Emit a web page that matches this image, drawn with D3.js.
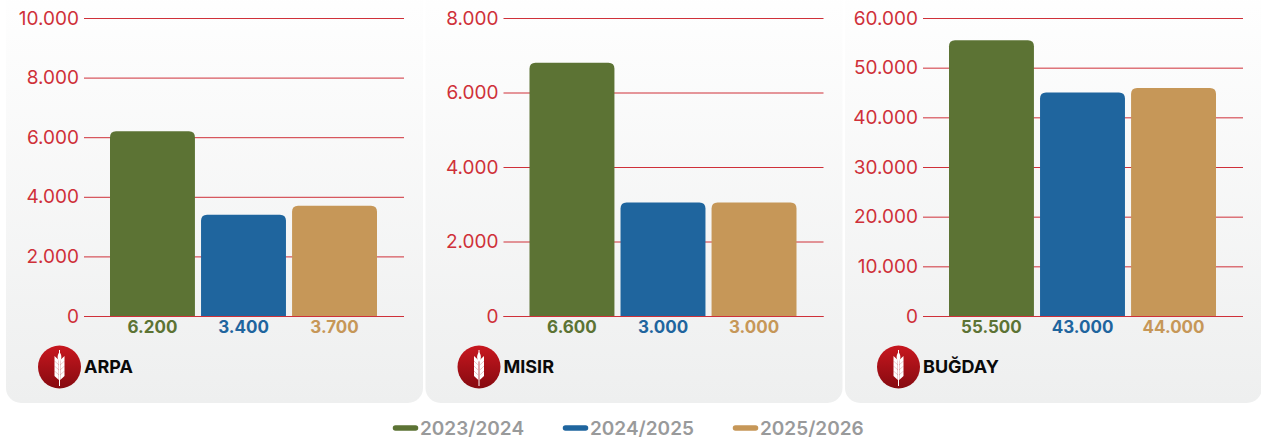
<!DOCTYPE html>
<html>
<head>
<meta charset="utf-8">
<script src="https://cdn.jsdelivr.net/npm/d3@7"></script>
<style>
  html, body { margin: 0; padding: 0; background: #fff; }
  svg { display: block; }
  text { font-family: Inter, "Noto Sans", sans-serif; }
</style>
</head>
<body>
<svg></svg>
<script>
var width = 1261,
    height = 442;

var seasons = ['2023/2024', '2024/2025', '2025/2026'];
var seasonColors = ['#5c7334', '#1f659e', '#c69758'];

var cropNames = ['ARPA', 'MISIR', 'BUĞDAY'];
var cropMax = [10000, 8000, 60000];
var cropStep = [2000, 2000, 10000];

// Bar heights as drawn
var arpaBars = [6200, 3400, 3700];
var misirBars = [6800, 3050, 3050];
var bugdayBars = [55500, 45000, 45900];

// The labels do not always agree with the bars, keep them apart
var arpaLabels = ['6.200', '3.400', '3.700'];
var misirLabels = ['6.600', '3.000', '3.000'];
var bugdayLabels = ['55.500', '43.000', '44.000'];

var cropBars = [arpaBars, misirBars, bugdayBars];
var cropLabels = [arpaLabels, misirLabels, bugdayLabels];

var panelX = [6, 425.5, 845];
var panelWidth = 417;
var panelBottom = 403;
var plotLeft = 78;
var plotWidth = 320;
var plotTop = 18;
var plotBottom = 316;

var red = '#cf3039';

// Thousands with a dot
function dotted(v) {
    return d3.format(',')(v).replace(/,/g, '.');
}

var svg = d3.select('svg')
    .attr('width', width)
    .attr('height', height);

var defs = svg.append('defs');

var panelGrad = defs.append('linearGradient')
    .attr('id', 'panel-grad')
    .attr('x1', 0).attr('y1', 0)
    .attr('x2', 0).attr('y2', 1);
panelGrad.append('stop').attr('offset', '0%').attr('stop-color', '#ffffff');
panelGrad.append('stop').attr('offset', '100%').attr('stop-color', '#eeefef');

var badgeGrad = defs.append('linearGradient')
    .attr('id', 'badge-grad')
    .attr('x1', 0).attr('y1', 0)
    .attr('x2', 0).attr('y2', 1);
badgeGrad.append('stop').attr('offset', '0%').attr('stop-color', '#c8171f');
badgeGrad.append('stop').attr('offset', '100%').attr('stop-color', '#860a10');

cropNames.forEach(function(name, i) {
    var g = svg.append('g')
        .attr('transform', 'translate(' + panelX[i] + ',0)');

    g.append('rect')
        .attr('x', 0)
        .attr('y', -20)
        .attr('width', panelWidth)
        .attr('height', panelBottom + 20)
        .attr('rx', 15)
        .attr('fill', 'url(#panel-grad)');

    var y = d3.scaleLinear()
        .domain([0, cropMax[i]])
        .range([plotBottom, plotTop]);

    var x = d3.scaleBand()
        .domain(seasons)
        .range([plotLeft + 26, plotLeft + 293])
        .paddingInner(0.067)
        .paddingOuter(0);

    var axis = d3.axisLeft(y)
        .tickValues(d3.range(0, cropMax[i] + 1, cropStep[i]))
        .tickSize(-plotWidth)
        .tickPadding(5)
        .tickFormat(dotted);

    var axisG = g.append('g')
        .attr('transform', 'translate(' + plotLeft + ',0)')
        .call(axis);
    axisG.select('.domain').remove();
    axisG.selectAll('.tick line')
        .attr('stroke', red)
        .attr('stroke-width', 1);
    axisG.selectAll('.tick text')
        .attr('fill', red)
        .style('font-size', '19px')
        .style('font-family', 'Inter, sans-serif');

    // Bars with only the top corners rounded
    g.selectAll('.bar')
        .data(cropBars[i])
        .enter().append('path')
        .attr('class', 'bar')
        .attr('fill', function(d, j) { return seasonColors[j]; })
        .attr('d', function(d, j) {
            var x0 = x(seasons[j]),
                x1 = x0 + x.bandwidth(),
                y0 = y(d),
                r = 6;
            return 'M' + x0 + ',' + plotBottom + 'V' + (y0 + r) +
                'Q' + x0 + ',' + y0 + ' ' + (x0 + r) + ',' + y0 +
                'H' + (x1 - r) +
                'Q' + x1 + ',' + y0 + ' ' + x1 + ',' + (y0 + r) +
                'V' + plotBottom + 'Z';
        });

    // baseline sits over the bars
    g.append('line')
        .attr('x1', plotLeft)
        .attr('x2', plotLeft + plotWidth)
        .attr('y1', y(0) + 0.5)
        .attr('y2', y(0) + 0.5)
        .attr('stroke', red);

    g.selectAll('.value')
        .data(cropLabels[i])
        .enter().append('text')
        .attr('class', 'value')
        .attr('x', function(d, j) { return x(seasons[j]) + x.bandwidth() / 2; })
        .attr('y', 333)
        .attr('text-anchor', 'middle')
        .attr('fill', function(d, j) { return seasonColors[j]; })
        .style('font-size', '17px')
        .style('font-weight', 700)
        .text(function(d) { return d; });

    // Badge with the wheat ear
    var badge = g.append('g')
        .attr('transform', 'translate(53.5,367)');
    badge.append('circle')
        .attr('r', 21.5)
        .attr('fill', 'url(#badge-grad)');
    badge.append('line')
        .attr('y1', -17).attr('y2', 19)
        .attr('stroke', '#fff')
        .attr('stroke-width', 1);
    badge.append('path')
        .attr('d', 'M0,-15 C2.5,-12 2.5,-8 0,-5 C-2.5,-8 -2.5,-12 0,-15Z')
        .attr('fill', '#fff');
    [-7, -2, 3, 8].forEach(function(ky) {
        [-1, 1].forEach(function(side) {
            badge.append('path')
                .attr('d', 'M' + (side * 0.7) + ',' + (ky + 5) +
                    ' L' + (side * 5) + ',' + (ky + 1) +
                    ' L' + (side * 5) + ',' + (ky - 4) +
                    ' L' + (side * 0.7) + ',' + ky + 'Z')
                .attr('fill', '#fff');
        });
    });

    g.append('text')
        .attr('x', 78)
        .attr('y', 373)
        .attr('fill', '#0a0a0a')
        .style('font-size', '18px')
        .style('font-weight', 700)
        .text(name);
});

// Legend
var legendX = [393, 563, 733];
var legend = svg.selectAll('.legend')
    .data(seasons)
    .enter().append('g')
    .attr('class', 'legend')
    .attr('transform', function(d, i) { return 'translate(' + legendX[i] + ',428)'; });

legend.append('line')
    .attr('x1', 2.5).attr('x2', 22.5)
    .attr('stroke', function(d, i) { return seasonColors[i]; })
    .attr('stroke-width', 5.5)
    .attr('stroke-linecap', 'round');

legend.append('text')
    .attr('x', 27)
    .attr('y', 7)
    .attr('fill', '#999a9b')
    .style('font-size', '19px')
    .style('font-weight', 600)
    .text(function(d) { return d; });
</script>
</body>
</html>
